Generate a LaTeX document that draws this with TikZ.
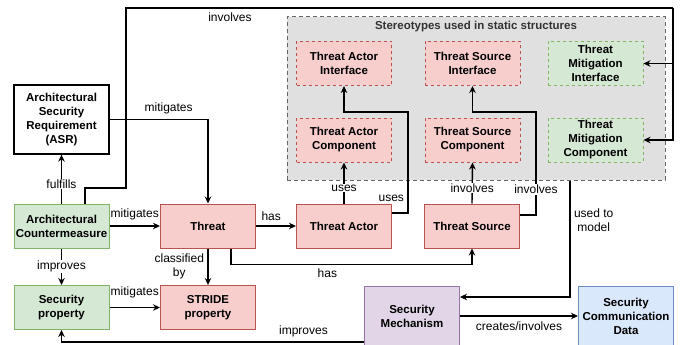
\documentclass[tikz,border=0pt]{standalone}
\usepackage{fontspec}
\setmainfont{Liberation Sans}
\usetikzlibrary{arrows.meta}

\definecolor{threatfill}{HTML}{F8CECC}
\definecolor{threatline}{HTML}{B85450}
\definecolor{counterfill}{HTML}{D5E8D4}
\definecolor{counterline}{HTML}{82B366}
\definecolor{mechfill}{HTML}{E1D5E7}
\definecolor{mechline}{HTML}{9673A6}
\definecolor{datafill}{HTML}{DAE8FC}
\definecolor{dataline}{HTML}{6C8EBF}

\begin{document}
\begin{tikzpicture}[
        x=1pt, y=-1pt,
        font=\fontsize{12}{14}\selectfont,
        >={Stealth[length=7pt,width=6.5pt]},
        box/.style={
            draw,
            line width=1pt,
            align=center,
            font=\fontsize{11.5}{14}\selectfont\bfseries,
            minimum width=95pt,
            minimum height=44pt,
            inner sep=1pt
        },
        threatbox/.style={box, draw=threatline, fill=threatfill},
        counterbox/.style={box, draw=counterline, fill=counterfill},
        stereo/.style={dash pattern=on 3pt off 3pt},
        link/.style={->, line width=1.4pt},
        lbl/.style={fill=white, inner sep=1pt}
    ]

    \useasboundingbox (0,0) rectangle (686,345);

    % stereotype group
    \node[draw=black!60, fill=black!12, line width=1pt, dash pattern=on 4pt off 3pt, minimum width=378pt, minimum height=163pt] (group) at (476,98.5) {};
    \node[font=\fontsize{11.5}{14}\selectfont\bfseries, text=black!80] (grouptitle) at (476,27) {Stereotypes used in static structures};

    \node[threatbox, stereo] (tai) at (344,63.5) {Threat Actor\\Interface};
    \node[threatbox, stereo] (tsi) at (472.5,63.5) {Threat Source\\Interface};
    \node[counterbox, stereo] (tmi) at (595.5,63.5) {Threat\\Mitigation\\Interface};
    \node[threatbox, stereo] (tac) at (344,140) {Threat Actor\\Component};
    \node[threatbox, stereo] (tsc) at (472.5,140) {Threat Source\\Component};
    \node[counterbox, stereo] (tmc) at (595.5,140) {Threat\\Mitigation\\Component};

    % main elements
    \node[box, line width=1.3pt, minimum height=69pt] (asr) at (61.5,119.5) {Architectural\\Security\\Requirement\\(ASR)};
    \node[counterbox] (ac) at (61.5,226) {Architectural\\Countermeasure};
    \node[counterbox] (sp) at (61.5,307.5) {Security\\property};
    \node[threatbox] (threat) at (208,226) {Threat};
    \node[threatbox] (stride) at (208,307.5) {STRIDE\\property};
    \node[threatbox] (actor) at (344,226) {Threat Actor};
    \node[threatbox] (source) at (472,226) {Threat Source};
    \node[box, draw=mechline, fill=mechfill, minimum height=60pt] (mech) at (412,316) {Security\\Mechanism};
    \node[box, draw=dataline, fill=datafill, minimum height=60pt] (scd) at (626,316) {Security\\Communication\\Data};

    \coordinate (topleft) at (126,8);
    \coordinate (topright) at (673,8);
    \coordinate (tmiin) at (673,63.5);

    % connectors
    \draw[link, -] ([xshift=23.5pt]ac.north) |- (126,188) -- (topleft) -- (topright) node[pos=0.19, below=1pt] {involves};
    \draw[link] (topright) |- (tmc.east);
    \draw[link] (tmiin) -- (tmi.east);

    \draw[link] (asr.east) -| (threat.north) node[pos=0.3, above=1pt] {mitigates};
    \draw[link] (ac.north) -- (asr.south) node[pos=0.4, lbl] {fulfills};
    \draw[link] (ac.east) -- (threat.west) node[midway, above=2pt] {mitigates};
    \draw[link] (ac.south) -- (sp.north) node[midway, lbl] {improves};
    \draw[link] (sp.east) -- (stride.west) node[midway, above=5pt] {mitigates};
    \draw[link] (threat.south) -- (stride.north) node[midway, left, align=center] {classified\\by};
    \draw[link] (threat.east) -- (actor.west) node[pos=0.38, above=1pt] {has};
    \draw[link] ([xshift=23pt]threat.south) -- ++(0,16) -| (source.south) node[pos=0.2, below] {has};

    \draw[link] (actor.north) -- (tac.south) node[pos=0.38, lbl] {uses};
    \draw[link] ([yshift=13pt]actor.east) -| (408,112) node[pos=0.575, left] {uses} -| (tai.south);
    \draw[link] (source.north) -- (tsc.south) node[pos=0.38, lbl] {involves};
    \draw[link] ([yshift=11pt]source.east) -| (536,112) node[pos=0.625, lbl] {involves} -| (tsi.south);

    \draw[link] ([xshift=94pt]group.south) |- ([yshift=19pt]mech.east) node[pos=0.17, right, align=center] {used to\\model};
    \draw[link] (mech.east) -- (scd.west) node[midway, below=2pt] {creates/involves};
    \draw[link] ([yshift=-26pt]mech.west) -| (sp.south) node[pos=0.1, above=1pt] {improves};

\end{tikzpicture}
\end{document}
